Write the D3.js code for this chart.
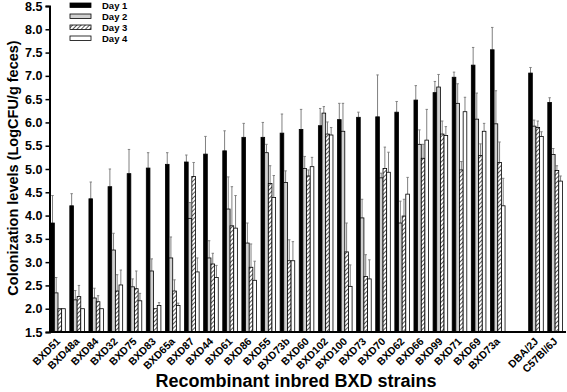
<!DOCTYPE html>
<html>
<head>
<meta charset="utf-8">
<script src="https://d3js.org/d3.v7.min.js"></script>
<style>
  body { margin: 0; background: #fff; }
  text { font-family: "Liberation Sans", Arial, sans-serif; font-weight: bold; }
</style>
</head>
<body>
<div id="chart"></div>
<script>
// strains in the order of the figure, the two parental strains after a gap
const strains = ["BXD51","BXD48a","BXD84","BXD32","BXD75","BXD83","BXD65a","BXD87","BXD44","BXD61",
  "BXD86","BXD55","BXD73b","BXD60","BXD102","BXD100","BXD73","BXD70","BXD62","BXD66","BXD99",
  "BXD71","BXD69","BXD73a","DBA/2J","C57Bl/6J"];
const days = ["Day 1","Day 2","Day 3","Day 4"];
const yTicks = [1.5,2.0,2.5,3.0,3.5,4.0,4.5,5.0,5.5,6.0,6.5,7.0,7.5,8.0,8.5];

// values (LogCFU/g feces), error = upper bar only
const day1 = [3.84,4.21,4.36,4.62,4.90,5.02,5.10,5.15,5.32,5.39,5.68,5.68,5.77,5.85,5.93,6.06,6.11,6.12,6.22,6.48,6.64,6.97,7.23,7.56,7.06,6.43];
const day1Err = [0.59,0.26,0.36,0.38,0.52,0.33,0.25,0.15,0.38,0.43,0.30,0.32,0.41,0.43,0.37,0.35,0.11,0.90,0.23,0.31,0.24,0.11,0.38,0.48,0.12,0.10];
const day2 = [2.34,2.19,2.23,3.26,2.47,2.81,3.09,3.94,3.09,4.14,3.41,5.35,4.71,5.01,6.20,5.81,3.95,4.81,3.84,5.53,6.76,6.41,6.07,5.97,5.92,5.31];
const day2Err = [0.33,0.20,0.21,0.36,0.17,0.26,0.45,0.34,0.37,0.69,0.43,0.18,0.25,0.26,0.14,0.60,0.40,0.10,0.47,0.31,0.27,0.42,0.56,0.71,0.13,0.13];
const day3 = [2.00,2.26,2.15,2.38,2.43,2.00,2.38,4.84,2.96,3.78,2.89,4.69,3.03,4.85,5.75,3.22,2.69,5.01,3.99,5.23,5.75,4.98,5.29,5.14,5.89,4.97];
const day3Err = [0.00,0.24,0.13,0.35,0.38,0.00,0.24,0.30,0.23,0.84,0.50,0.38,0.45,0.13,0.26,0.62,0.47,0.46,0.36,0.30,0.28,0.18,0.25,0.44,0.14,0.10];
const day4 = [2.00,2.00,2.00,2.51,2.17,2.07,2.07,2.79,2.67,3.73,2.61,4.39,3.03,5.05,5.73,2.48,2.64,4.93,4.46,5.62,5.72,6.23,5.81,4.21,5.70,4.74];
const day4Err = [0.00,0.00,0.00,0.32,0.16,0.06,0.05,0.30,0.26,0.70,0.41,0.47,0.41,0.20,0.16,0.46,0.41,0.43,0.36,0.66,0.19,0.31,0.17,0.59,0.10,0.11];

const seriesVals = [day1, day2, day3, day4];
const seriesErr = [day1Err, day2Err, day3Err, day4Err];

const width = 567, height = 392;
const svg = d3.select("#chart").append("svg")
  .attr("width", width)
  .attr("height", height);

// hatch for day 3
const defs = svg.append("defs");
const hatch = defs.append("pattern")
  .attr("id", "hatch")
  .attr("patternUnits", "userSpaceOnUse")
  .attr("width", 3)
  .attr("height", 3)
  .attr("patternTransform", "rotate(45)");
hatch.append("rect").attr("width", 3).attr("height", 3).attr("fill", "#fff");
hatch.append("line").attr("x1", 0).attr("y1", 0).attr("x2", 0).attr("y2", 3)
  .attr("stroke", "#000").attr("stroke-width", 1.3);

const fills = ["#000", "#d0d0d0", "url(#hatch)", "#fff"];

// one empty slot between BXD73a and DBA/2J
const slots = strains.slice(0, 24).concat(["gap"], strains.slice(24));

const y = d3.scaleLinear().domain([1.5, 8.5]).range([332, 6]);
const x = d3.scaleBand().domain(slots).range([50.7, 562.4])
  .paddingInner(0.236).paddingOuter(0).align(0);
const xDay = d3.scaleBand().domain(days).range([0, x.bandwidth()]);

// rows of data, one per strain and day
const rows = [];
strains.forEach((s, i) => {
  days.forEach((d, j) => {
    rows.push({ strain: s, day: d, k: j, value: seriesVals[j][i], err: seriesErr[j][i] });
  });
});

// error bars first, so the bars sit over their base
const errG = svg.append("g").attr("stroke", "#808080").attr("stroke-width", 1);
rows.filter(r => r.err > 0).forEach(r => {
  const cx = x(r.strain) + xDay(r.day) + xDay.bandwidth() / 2;
  errG.append("line")
    .attr("x1", cx).attr("x2", cx)
    .attr("y1", y(r.value)).attr("y2", y(r.value + r.err));
  errG.append("line")
    .attr("x1", cx - 1.2).attr("x2", cx + 1.2)
    .attr("y1", y(r.value + r.err)).attr("y2", y(r.value + r.err));
});

svg.append("g")
  .selectAll("rect")
  .data(rows)
  .join("rect")
    .attr("x", d => x(d.strain) + xDay(d.day))
    .attr("y", d => y(d.value))
    .attr("width", xDay.bandwidth())
    .attr("height", d => y(1.5) - y(d.value))
    .attr("fill", d => fills[d.k])
    .attr("stroke", "#000")
    .attr("stroke-width", 0.8);

// y axis
const yAxis = svg.append("g")
  .attr("transform", "translate(49.5,0)")
  .call(d3.axisLeft(y).tickValues(yTicks).tickFormat(d3.format(".1f")).tickSize(4).tickPadding(3));
yAxis.select(".domain").attr("stroke-width", 2);
yAxis.selectAll(".tick line").attr("stroke-width", 1.5);
yAxis.selectAll("text").attr("font-size", 12.5).attr("fill", "#000");

// x axis
const xAxis = svg.append("g")
  .attr("transform", "translate(0,332)")
  .call(d3.axisBottom(x).tickValues(strains).tickSize(0).tickPadding(4)
    .offset(0));
xAxis.select(".domain").attr("d", "M49,0H566").attr("stroke-width", 2);
xAxis.selectAll(".tick").attr("transform", d => "translate(" + (x(d) + x.bandwidth() / 2 + 3) + ",0)");
xAxis.selectAll("text")
  .attr("font-size", 10.5)
  .attr("fill", "#000")
  .attr("text-anchor", "end")
  .attr("dy", 0)
  .attr("y", 0)
  .attr("transform", "translate(0,10) rotate(-45)");

// axis titles
svg.append("text")
  .attr("transform", "translate(18,168) rotate(-90)")
  .attr("text-anchor", "middle")
  .attr("font-size", 14.5)
  .text("Colonization levels (LogCFU/g feces)");

svg.append("text")
  .attr("x", 296)
  .attr("y", 387)
  .attr("text-anchor", "middle")
  .attr("font-size", 18)
  .text("Recombinant inbred BXD strains");

// legend
const legend = svg.append("g").attr("transform", "translate(70,5)");
days.forEach((d, j) => {
  const row = legend.append("g").attr("transform", "translate(0," + (j * 11) + ")");
  row.append("rect")
    .attr("x", 0).attr("y", -2)
    .attr("width", 21).attr("height", 4.5)
    .attr("fill", fills[j])
    .attr("stroke", "#000")
    .attr("stroke-width", 0.8);
  row.append("text")
    .attr("x", 32)
    .attr("y", 3.5)
    .attr("font-size", 9.5)
    .text(d);
});
</script>
</body>
</html>
